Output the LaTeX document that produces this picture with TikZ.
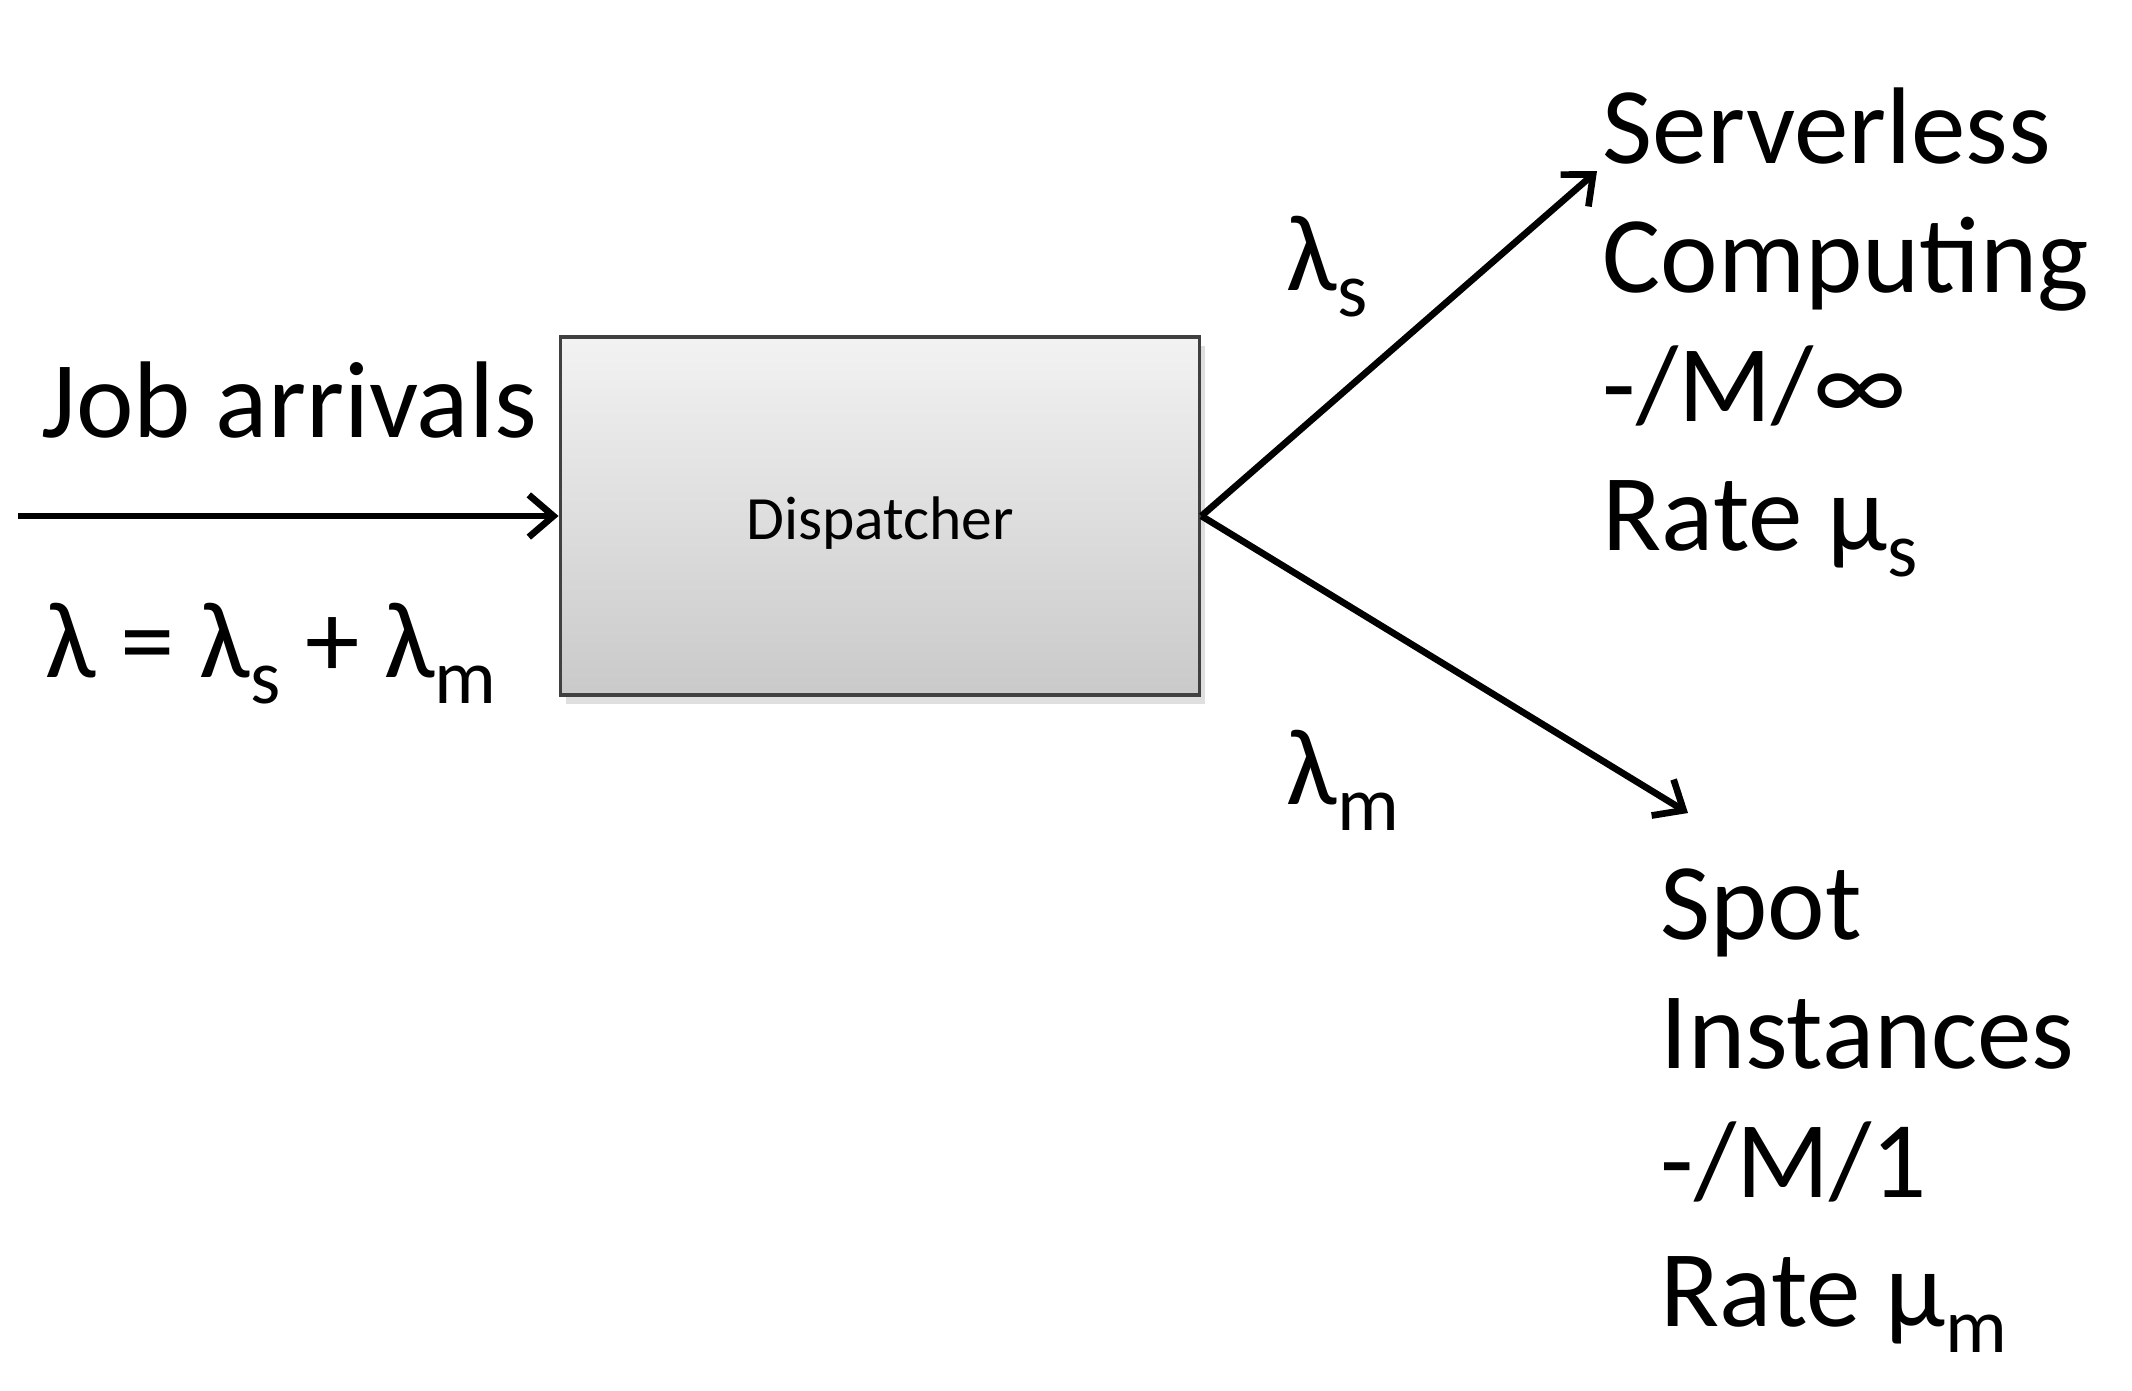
\documentclass[tikz,border=0pt]{standalone}
\usepackage{fontspec}
\setmainfont{Carlito}
\usetikzlibrary{calc,shapes,arrows.meta,shadows}

\newcommand{\lowsub}[1]{\raisebox{-7.5pt}{\fontsize{22}{22}\selectfont #1}}

\begin{document}
\begin{tikzpicture}[x=0.01cm,y=-0.01cm,
    bigtext/.style={font=\fontsize{31}{36.6}\selectfont, inner sep=0pt, align=left},
    flow/.style={-{Straight Barb[length=7pt,width=12pt,line width=1.9pt]}, line width=1.9pt}]
  \useasboundingbox (0,0) rectangle (2132,1390);

  %% The dispatcher box
  \node[draw=black!75, line width=1pt, top color=gray!10, bottom color=gray!42,
        drop shadow={opacity=0.25,shadow xshift=1.5pt,shadow yshift=-2.5pt},
        minimum width=6.39cm, minimum height=3.58cm,
        font=\fontsize{17.5}{20}\selectfont] (DISP) at (880,516)
        {\raisebox{-0.23cm}[0pt][0pt]{Dispatcher}};

  %% Incoming jobs
  \coordinate (SRC) at (18,516);
  \draw[flow] (SRC) -- (DISP.west);
  \node[bigtext, anchor=base west] (ARR) at (41,437) {Job arrivals};
  \node[bigtext, anchor=base west] (LAM) at (45,677)
    {λ = λ\lowsub{s} + λ\lowsub{m}};

  %% The two branches
  \coordinate (SRVTIP) at (1597,171);
  \coordinate (SPOTTIP) at (1688,813);
  \draw[flow] (DISP.east) -- (SRVTIP);
  \draw[flow] (DISP.east) -- (SPOTTIP);
  \node[bigtext, anchor=base west] (LAMS) at (1286,290) {λ\lowsub{s}};
  \node[bigtext, anchor=base west] (LAMM) at (1286,804) {λ\lowsub{m}};

  %% Queue descriptions (anchored at the last line)
  \node[bigtext, anchor=base west] (SRV) at (1602,550)
    {Serverless\\Computing\\-/M/∞\\Rate μ\lowsub{s}};
  \node[bigtext, anchor=base west] (SPOT) at (1660,1326)
    {Spot\\Instances\\-/M/1\\Rate μ\lowsub{m}};
\end{tikzpicture}
\end{document}
